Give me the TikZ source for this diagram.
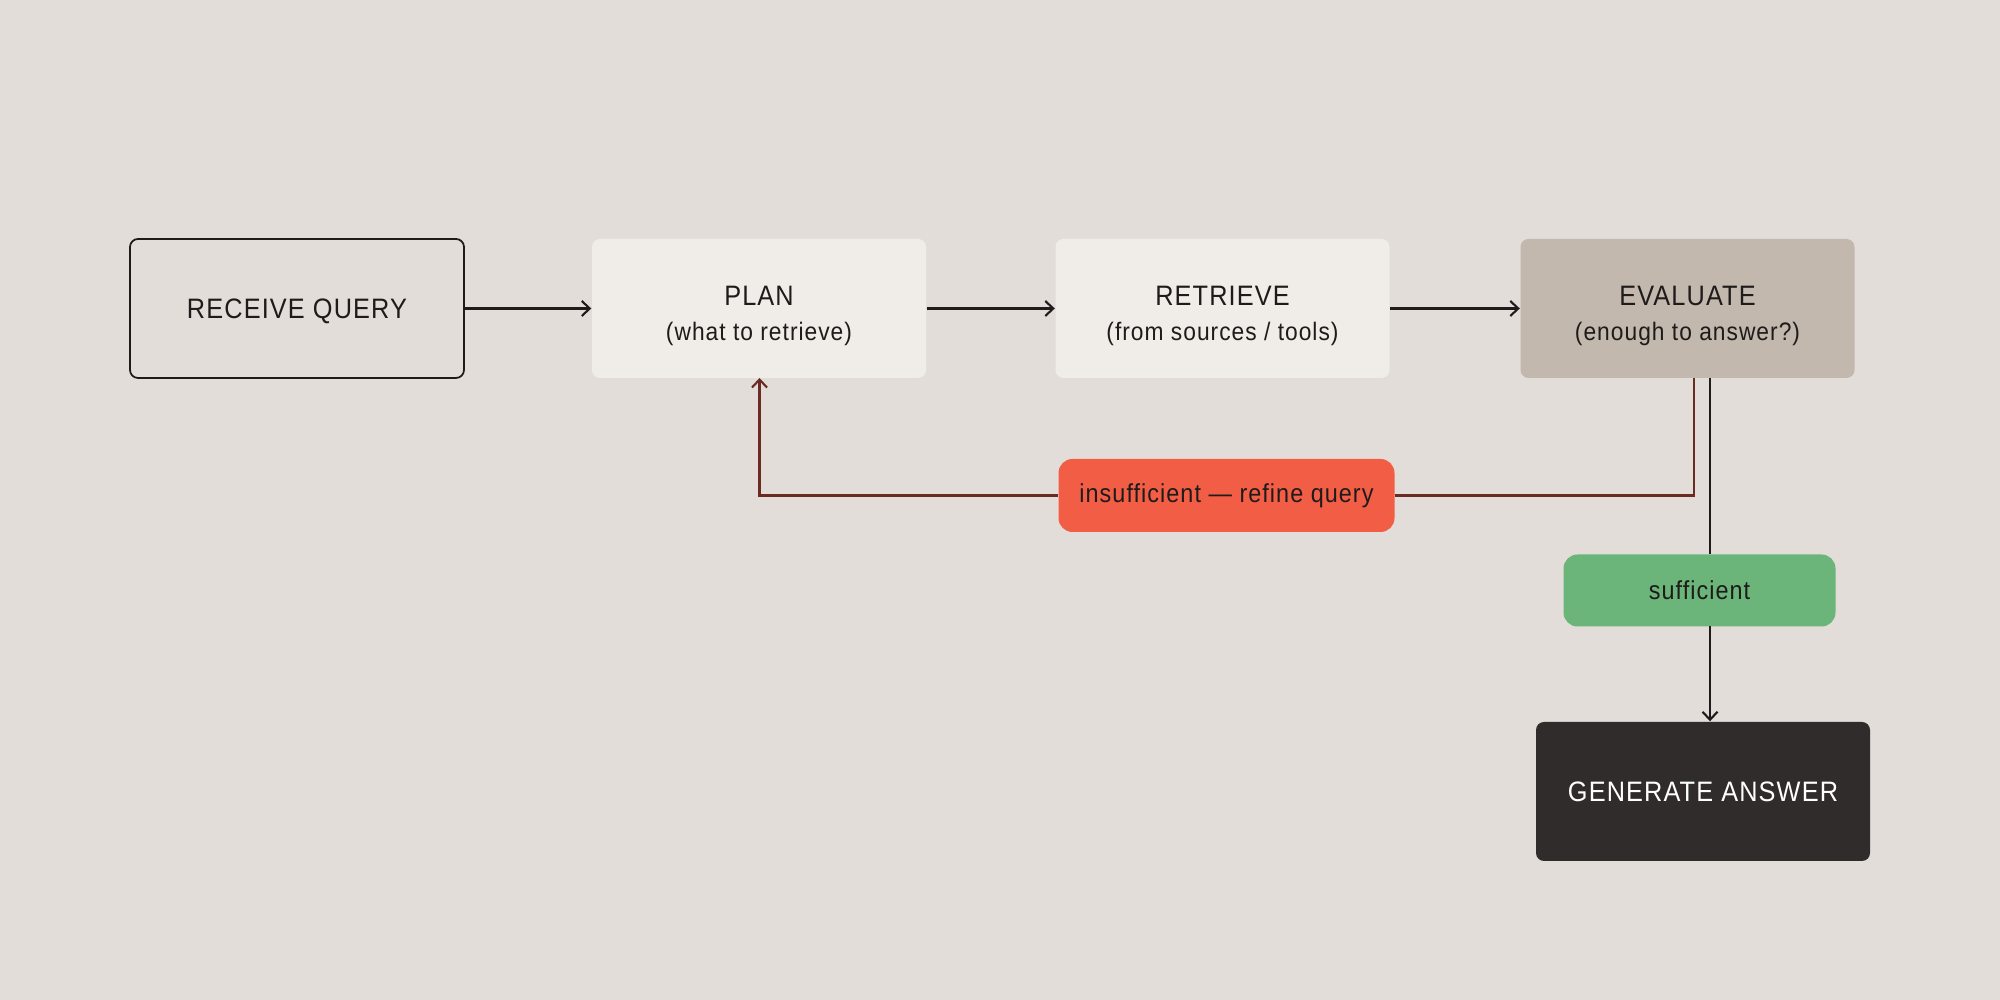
\documentclass[tikz,border=0pt]{standalone}
\usepackage{fontspec}
\setmainfont{Liberation Sans}[LetterSpace=4, FakeStretch=0.9]
\usetikzlibrary{arrows.meta}
\definecolor{bg}{HTML}{E2DDD9}
\definecolor{lightbox}{HTML}{F0EDE9}
\definecolor{evalbox}{HTML}{C2B8AD}
\definecolor{redbox}{HTML}{F25E45}
\definecolor{greenbox}{HTML}{6BB57A}
\definecolor{darkbox}{HTML}{302C2B}
\definecolor{loopline}{HTML}{6B2A22}
\definecolor{ink}{HTML}{1E1B1A}
\newcommand{\titlefont}{\fontsize{8}{10}\selectfont}
\newcommand{\subfont}{\fontsize{7.2}{10}\selectfont}
\newcommand{\topstrut}{\rule{0pt}{0.35cm}}
\tikzset{
  stepbox/.style={rectangle, rounded corners=0.08cm, minimum width=3.34cm, minimum height=1.39cm, align=center, inner sep=0pt, text=ink, font=\titlefont},
  labelbox/.style={rectangle, rounded corners=0.14cm, align=center, inner sep=0pt, text=ink, font=\fontsize{7.4}{9}\selectfont},
  flow/.style={draw=ink, line width=0.6pt, -{Straight Barb[length=0.08cm,width=0.15cm]}},
  plain/.style={draw=ink, line width=0.5pt},
  loopflow/.style={draw=loopline, line width=0.6pt},
}
\begin{document}
\begin{tikzpicture}
\fill[bg] (0,0) rectangle (20,-10);
\useasboundingbox (0,0) rectangle (20,-10);

\node[stepbox, draw=ink, line width=0.5pt, text depth=0pt] (recv) at (2.97,-3.085) {RECEIVE QUERY};
\node[stepbox, fill=lightbox] (plan) at (7.59,-3.085) {\topstrut PLAN\\{\subfont (what to retrieve)}};
\node[stepbox, fill=lightbox] (retr) at (12.225,-3.085) {\topstrut RETRIEVE\\{\subfont (from sources / tools)}};
\node[stepbox, fill=evalbox] (eval) at (16.875,-3.085) {\topstrut EVALUATE\\{\subfont (enough to answer?)}};
\node[labelbox, fill=redbox, minimum width=3.36cm, minimum height=0.73cm] (insuf) at (12.265,-4.955) {insufficient — refine query};
\node[labelbox, fill=greenbox, minimum width=2.72cm, minimum height=0.72cm] (suff) at (16.995,-5.905) {sufficient};
\node[stepbox, fill=darkbox, text=white] (gen) at (17.03,-7.915) {GENERATE ANSWER};

\draw[flow] (recv) -- (plan);
\draw[flow] (plan) -- (retr);
\draw[flow] (retr) -- (eval);

\coordinate (evloop) at (16.94,-3.78);
\coordinate (evsuf) at (17.1,-3.78);
\coordinate (loopcorner) at (16.94,-4.955);
\coordinate (plancorner) at (7.595,-4.955);
\coordinate (planbot) at (7.595,-3.78);
\draw[loopflow] (evloop) -- (loopcorner) -- (insuf.east);
\draw[loopflow, -{Straight Barb[length=0.08cm,width=0.15cm]}] (insuf.west) -- (plancorner) -- (planbot);

\draw[plain] (evsuf) -- (evsuf |- suff.north);
\coordinate (sufbot) at (17.1,-6.265);
\draw[flow] (sufbot) -- (sufbot |- gen.north);
\end{tikzpicture}
\end{document}
